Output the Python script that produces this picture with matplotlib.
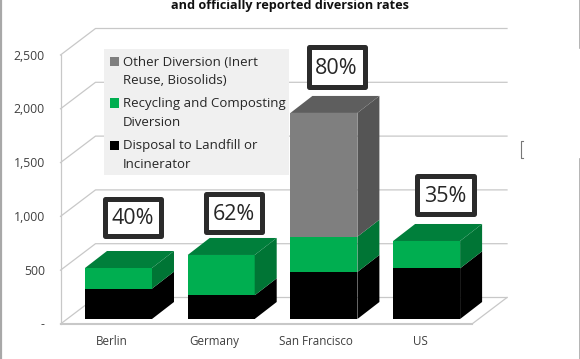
import matplotlib
matplotlib.use("Agg")
import matplotlib.pyplot as plt
from matplotlib.patches import Polygon, Rectangle

plt.rcParams['font.family'] = ['Open Sans', 'DejaVu Sans']

title = "and officially reported diversion rates"
categories = ["Berlin", "Germany", "San Francisco", "US"]
disposal = [282, 220, 437, 471]
recycling = [192, 375, 328, 254]
other = [0, 0, 1150, 0]
rates = ["40%", "62%", "80%", "35%"]
y_ticks = [0, 500, 1000, 1500, 2000, 2500]
y_labels = ["-", "500", "1,000", "1,500", "2,000", "2,500"]
legend_labels = ["Other Diversion (Inert\nReuse, Biosolids)",
                 "Recycling and Composting\nDiversion",
                 "Disposal to Landfill or\nIncinerator"]

W, H = 580, 359
PX_PER_X = 102.7       # pixels per category step
PX_PER_Y = 0.1076      # pixels per unit value
X0_PX = 118.5          # pixel x of first category
Y0_PX = 319.0          # pixel y of bar baseline

fig = plt.figure(figsize=(W / 100, H / 100), dpi=100, facecolor='white')
ax = fig.add_axes([0, 0, 1, 1])
ax.set_xlim((0 - X0_PX) / PX_PER_X, (W - X0_PX) / PX_PER_X)
ax.set_ylim((Y0_PX - H) / PX_PER_Y, Y0_PX / PX_PER_Y)
ax.axis('off')


def dx(px):
    return px / PX_PER_X


def dy(px):
    return px / PX_PER_Y


def fx(px):
    return (px - X0_PX) / PX_PER_X


def fy(py):
    return (Y0_PX - py) / PX_PER_Y


# wall and floor
grid = '#c8c8c8'
fl, bl, br, fr = fx(60.5), fx(95.5), fx(507), fx(472)
front0 = dy(-5)       # front floor plane below bar baseline
back0 = dy(21.5)      # back wall baseline
for v in y_ticks:
    ax.plot([fl, bl, br], [front0 + v, back0 + v, back0 + v], color=grid, lw=0.9, zorder=1)
ax.plot([fl, fl], [front0, front0 + 2500], color=grid, lw=0.9, zorder=1)
ax.plot([fl, fr], [front0, front0], color=grid, lw=1.5, zorder=1)
ax.plot([fr, br], [front0, back0], color=grid, lw=0.9, zorder=1)
for v, s in zip(y_ticks, y_labels):
    ax.text(fx(45), front0 + v - dy(4.5), s, ha='right', va='baseline', fontsize=8.8, color='#404040', zorder=5)

# bars
bw = 67 / PX_PER_X
ddx, ddy = dx(22), dy(17)
series = [(disposal, '#000000', '#000000', '#000000'),
          (recycling, '#00ae50', '#007f3b', '#007535'),
          (other, '#7f7f7f', '#5e5e5e', '#555555')]
for i in range(len(categories)):
    base = 0
    top_info = None
    for vals, front, topc, sidec in series:
        v = vals[i]
        if v == 0:
            continue
        l, r = i - bw / 2, i + bw / 2
        ax.bar(i, v, bw, bottom=base, color=front, lw=0, zorder=3)
        ax.add_patch(Polygon([(r, base), (r + ddx, base + ddy), (r + ddx, base + v + ddy), (r, base + v)],
                             fc=sidec, lw=0, zorder=3))
        base += v
        top_info = (l, r, base, topc)
    l, r, b, c = top_info
    ax.add_patch(Polygon([(l, b), (r, b), (r + ddx, b + ddy), (l + ddx, b + ddy)], fc=c, lw=0, zorder=3))

label_x = [112, 214, 316, 420]
for xp, s in zip(label_x, categories):
    ax.text(fx(xp), fy(345), s, ha='center', va='baseline', fontsize=8.4, color='#404040', zorder=5)

# rate boxes (pixel extents of outer border)
boxes = [(102, 163, 196, 238), (203, 264, 191, 234), (306, 367, 45, 89), (414, 476, 173, 216)]
for (x0, x1, y0, y1), s in zip(boxes, rates):
    ax.add_patch(Rectangle((fx(x0 + 2.5), fy(y1 - 2.5)), dx(x1 - x0 - 5), dy(y1 - y0 - 5),
                           fc='white', ec='#2b2b2b', lw=3.6, joinstyle='round', zorder=6))
    ax.text(fx((x0 + x1) / 2), fy((y0 + y1) / 2 + 7), s, ha='center', va='baseline',
            fontsize=15.5, color='#262626', zorder=7)

# legend
ax.add_patch(Rectangle((fx(104), fy(175)), dx(185), dy(126), fc='#f0f0f0', lw=0, zorder=4))
leg_colors = ['#7f7f7f', '#00ae50', '#000000']
leg_ys = [61, 103, 145]
for c, yp, s in zip(leg_colors, leg_ys, legend_labels):
    ax.add_patch(Rectangle((fx(110), fy(yp + 4.5)), dx(9), dy(9), fc=c, lw=0, zorder=5))
    for k, line in enumerate(s.split("\n")):
        ax.text(fx(123), fy(yp + 4.5 + 18 * k), line, ha='left', va='baseline', fontsize=9.5,
                color='#262626', zorder=5)

# title, clipped by top edge
ax.text(fx(290), fy(8.5), title, ha='center', va='baseline', fontsize=9.1, fontweight='bold', color='#111111')

# picture frame and stray bracket
fc = '#a8a8a8'
ax.plot([fx(0.5), fx(0.5)], [fy(0), fy(359)], color=fc, lw=1.6, zorder=8)
ax.plot([fx(579.5), fx(579.5)], [fy(0), fy(48)], color=fc, lw=1.2, zorder=8)
ax.plot([fx(579.5), fx(579.5)], [fy(159), fy(359)], color=fc, lw=1.2, zorder=8)
ax.plot([fx(523), fx(521), fx(521), fx(523)], [fy(141), fy(141), fy(158), fy(158)], color='#777777', lw=0.8, zorder=8)

fig.savefig('out.png', dpi=100, facecolor='white')
